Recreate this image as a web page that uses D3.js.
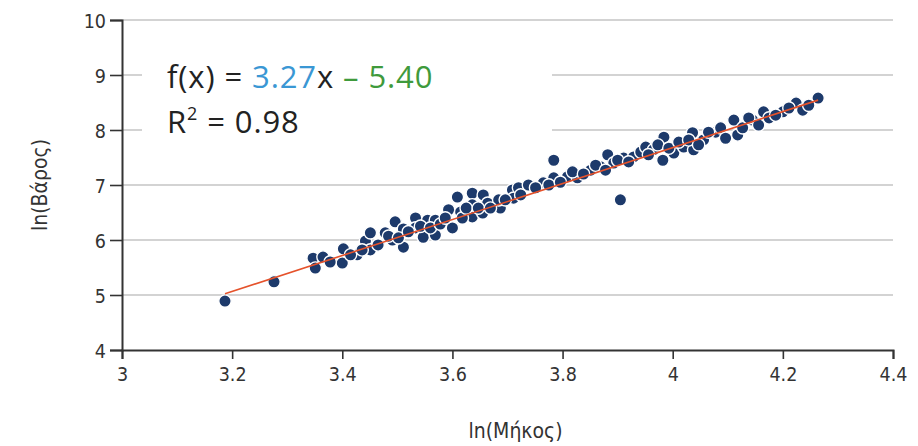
<!DOCTYPE html>
<html>
<head>
<meta charset="utf-8">
<script src="https://cdn.jsdelivr.net/npm/d3@7"></script>
<style>
  body { margin: 0; background: #fff; }
  .tick text { font-family: "DejaVu Sans Condensed", "Liberation Sans", sans-serif; font-stretch: condensed; font-size: 19.5px; fill: #333; }
  .axis-text { font-family: "DejaVu Sans Condensed", "Liberation Sans", sans-serif; font-stretch: condensed; font-size: 21px; fill: #333; }
  .eq-text { font-family: "Open Sans", sans-serif; font-size: 31px; fill: #222; }
</style>
</head>
<body>
<div id="chart"></div>
<script>
// data: ln(length) vs ln(weight)
var lnLength = [3.187, 3.276, 3.347, 3.365, 3.351, 3.402, 3.400, 3.427, 3.442, 3.451, 3.451, 3.478, 3.491, 3.496,
    3.511, 3.511, 3.533, 3.533, 3.547, 3.555, 3.569, 3.569, 3.593, 3.600, 3.609, 3.615, 3.636, 3.636, 3.636,
    3.656, 3.664, 3.655, 3.687, 3.684, 3.709, 3.711, 3.720, 3.738, 3.765, 3.784, 3.784, 3.809, 3.827, 3.851,
    3.869, 3.882, 3.893, 3.911, 3.905, 3.929, 3.942, 3.951, 3.965, 3.984, 3.982, 4.002, 4.020, 4.036, 4.038,
    4.056, 4.078, 4.111, 4.118, 4.145, 4.165, 4.175, 4.200, 4.224, 4.236, 4.264,
    3.378, 3.415, 3.436, 3.465, 3.484, 3.502, 3.520, 3.542, 3.560, 3.578, 3.587, 3.618, 3.625, 3.647, 3.669,
    3.696, 3.724, 3.751, 3.775, 3.796, 3.818, 3.838, 3.860, 3.878, 3.900, 3.920, 3.956, 3.973, 3.993, 4.011,
    4.029, 4.047, 4.065, 4.087, 4.096, 4.127, 4.138, 4.156, 4.187, 4.211, 4.247];
var lnWeight = [4.89, 5.24, 5.67, 5.69, 5.49, 5.84, 5.58, 5.73, 5.98, 5.82, 6.13, 6.13, 6.00, 6.33,
    6.20, 5.87, 6.40, 6.22, 6.05, 6.36, 6.36, 6.09, 6.55, 6.22, 6.78, 6.51, 6.85, 6.64, 6.42,
    6.82, 6.67, 6.49, 6.58, 6.73, 6.91, 6.76, 6.95, 7.00, 7.04, 7.45, 7.13, 7.15, 7.13, 7.27,
    7.33, 7.55, 7.40, 7.49, 6.73, 7.51, 7.60, 7.69, 7.64, 7.87, 7.45, 7.58, 7.69, 7.95, 7.64,
    7.82, 7.96, 8.18, 7.91, 8.18, 8.33, 8.22, 8.33, 8.49, 8.36, 8.58,
    5.60, 5.73, 5.82, 5.91, 6.07, 6.04, 6.15, 6.25, 6.22, 6.29, 6.40, 6.40, 6.58, 6.58, 6.58,
    6.73, 6.82, 6.95, 7.00, 7.05, 7.24, 7.20, 7.36, 7.27, 7.45, 7.42, 7.55, 7.73, 7.67, 7.78,
    7.82, 7.73, 7.96, 8.04, 7.85, 8.04, 8.22, 8.09, 8.27, 8.40, 8.45];

var xTicks = [3, 3.2, 3.4, 3.6, 3.8, 4, 4.2, 4.4];
var yTicks = [4, 5, 6, 7, 8, 9, 10];

// fitted line
var slope = 3.27;
var intercept = -5.40;

var svgWidth = 918;
var svgHeight = 446;

var margin = {
    top: 20,
    right: 25,
    bottom: 96,
    left: 122
};

var width = svgWidth - margin.left - margin.right;
var height = svgHeight - margin.top - margin.bottom;

var svg = d3.select("#chart").append("svg").attr("width", svgWidth).attr("height", svgHeight);

var chartGroup = svg.append("g").attr("transform", `translate(${margin.left}, ${margin.top})`);

var xLinearScale = d3.scaleLinear().domain([3, 4.4]).range([0, width]);
var yLinearScale = d3.scaleLinear().domain([4, 10]).range([height, 0]);

// gridlines
chartGroup.append("g")
    .selectAll("line")
    .data(yTicks.slice(1))
    .enter()
    .append("line")
    .attr("x1", 0)
    .attr("x2", width)
    .attr("y1", d => yLinearScale(d))
    .attr("y2", d => yLinearScale(d))
    .attr("stroke", "#c4c4c4")
    .attr("stroke-width", 1.6);

// axes
var bottomAxis = d3.axisBottom(xLinearScale).tickValues(xTicks).tickSize(9).tickPadding(8).tickFormat(d3.format("~g"));
var leftAxis = d3.axisLeft(yLinearScale).tickValues(yTicks).tickSize(12).tickPadding(4).tickFormat(d3.format("~g"));

var xAxis = chartGroup.append("g")
    .attr("transform", `translate(0, ${height})`)
    .call(bottomAxis);

var yAxis = chartGroup.append("g")
    .call(leftAxis);

[xAxis, yAxis].forEach(function(ax) {
    ax.select(".domain").attr("stroke", "#333").attr("stroke-width", 2);
    ax.selectAll(".tick line").attr("stroke", "#333").attr("stroke-width", 1.6);
});
yAxis.selectAll(".tick text").attr("dy", "0.36em");

// points
var points = lnLength.map((x, i) => ({ x: x, y: lnWeight[i] }));

chartGroup.selectAll("circle")
    .data(points)
    .enter()
    .append("circle")
    .attr("cx", d => xLinearScale(d.x))
    .attr("cy", d => yLinearScale(d.y))
    .attr("r", 6.2)
    .attr("fill", "#1d3a6b")
    .attr("stroke", "#fff")
    .attr("stroke-width", 1.4);

// trend line
var xMin = d3.min(lnLength);
var xMax = d3.max(lnLength);
chartGroup.append("line")
    .attr("x1", xLinearScale(xMin))
    .attr("x2", xLinearScale(xMax))
    .attr("y1", yLinearScale(slope * xMin + intercept))
    .attr("y2", yLinearScale(slope * xMax + intercept))
    .attr("stroke", "#e5522b")
    .attr("stroke-width", 1.6);

// equation box
chartGroup.append("rect")
    .attr("x", 20)
    .attr("y", 14)
    .attr("width", 410)
    .attr("height", 120)
    .attr("fill", "#fff");

var eq = chartGroup.append("text")
    .attr("class", "eq-text")
    .attr("x", 45)
    .attr("y", 68)
    .attr("letter-spacing", "0.9");
eq.append("tspan").text("f(x) = ");
eq.append("tspan").attr("fill", "#3a97d4").text(slope.toFixed(2));
eq.append("tspan").text("x ");
eq.append("tspan").attr("fill", "#3f9a3c").text("\u2013 " + Math.abs(intercept).toFixed(2));

var r2 = chartGroup.append("text")
    .attr("class", "eq-text")
    .attr("x", 45)
    .attr("y", 113)
    .attr("letter-spacing", "0.9");
r2.append("tspan").text("R");
r2.append("tspan").attr("font-size", "18px").attr("dy", "-13").text("2");
r2.append("tspan").attr("dy", "13").text(" = 0.98");

// axis titles
chartGroup.append("text")
    .attr("class", "axis-text")
    .attr("text-anchor", "middle")
    .attr("x", width / 2 + 8)
    .attr("y", height + 88)
    .text("ln(Μήκος)");

chartGroup.append("text")
    .attr("class", "axis-text")
    .attr("text-anchor", "middle")
    .attr("transform", "rotate(-90)")
    .attr("x", 0 - (height / 2))
    .attr("y", 0 - margin.left + 47)
    .text("ln(Βάρος)");
</script>
</body>
</html>
